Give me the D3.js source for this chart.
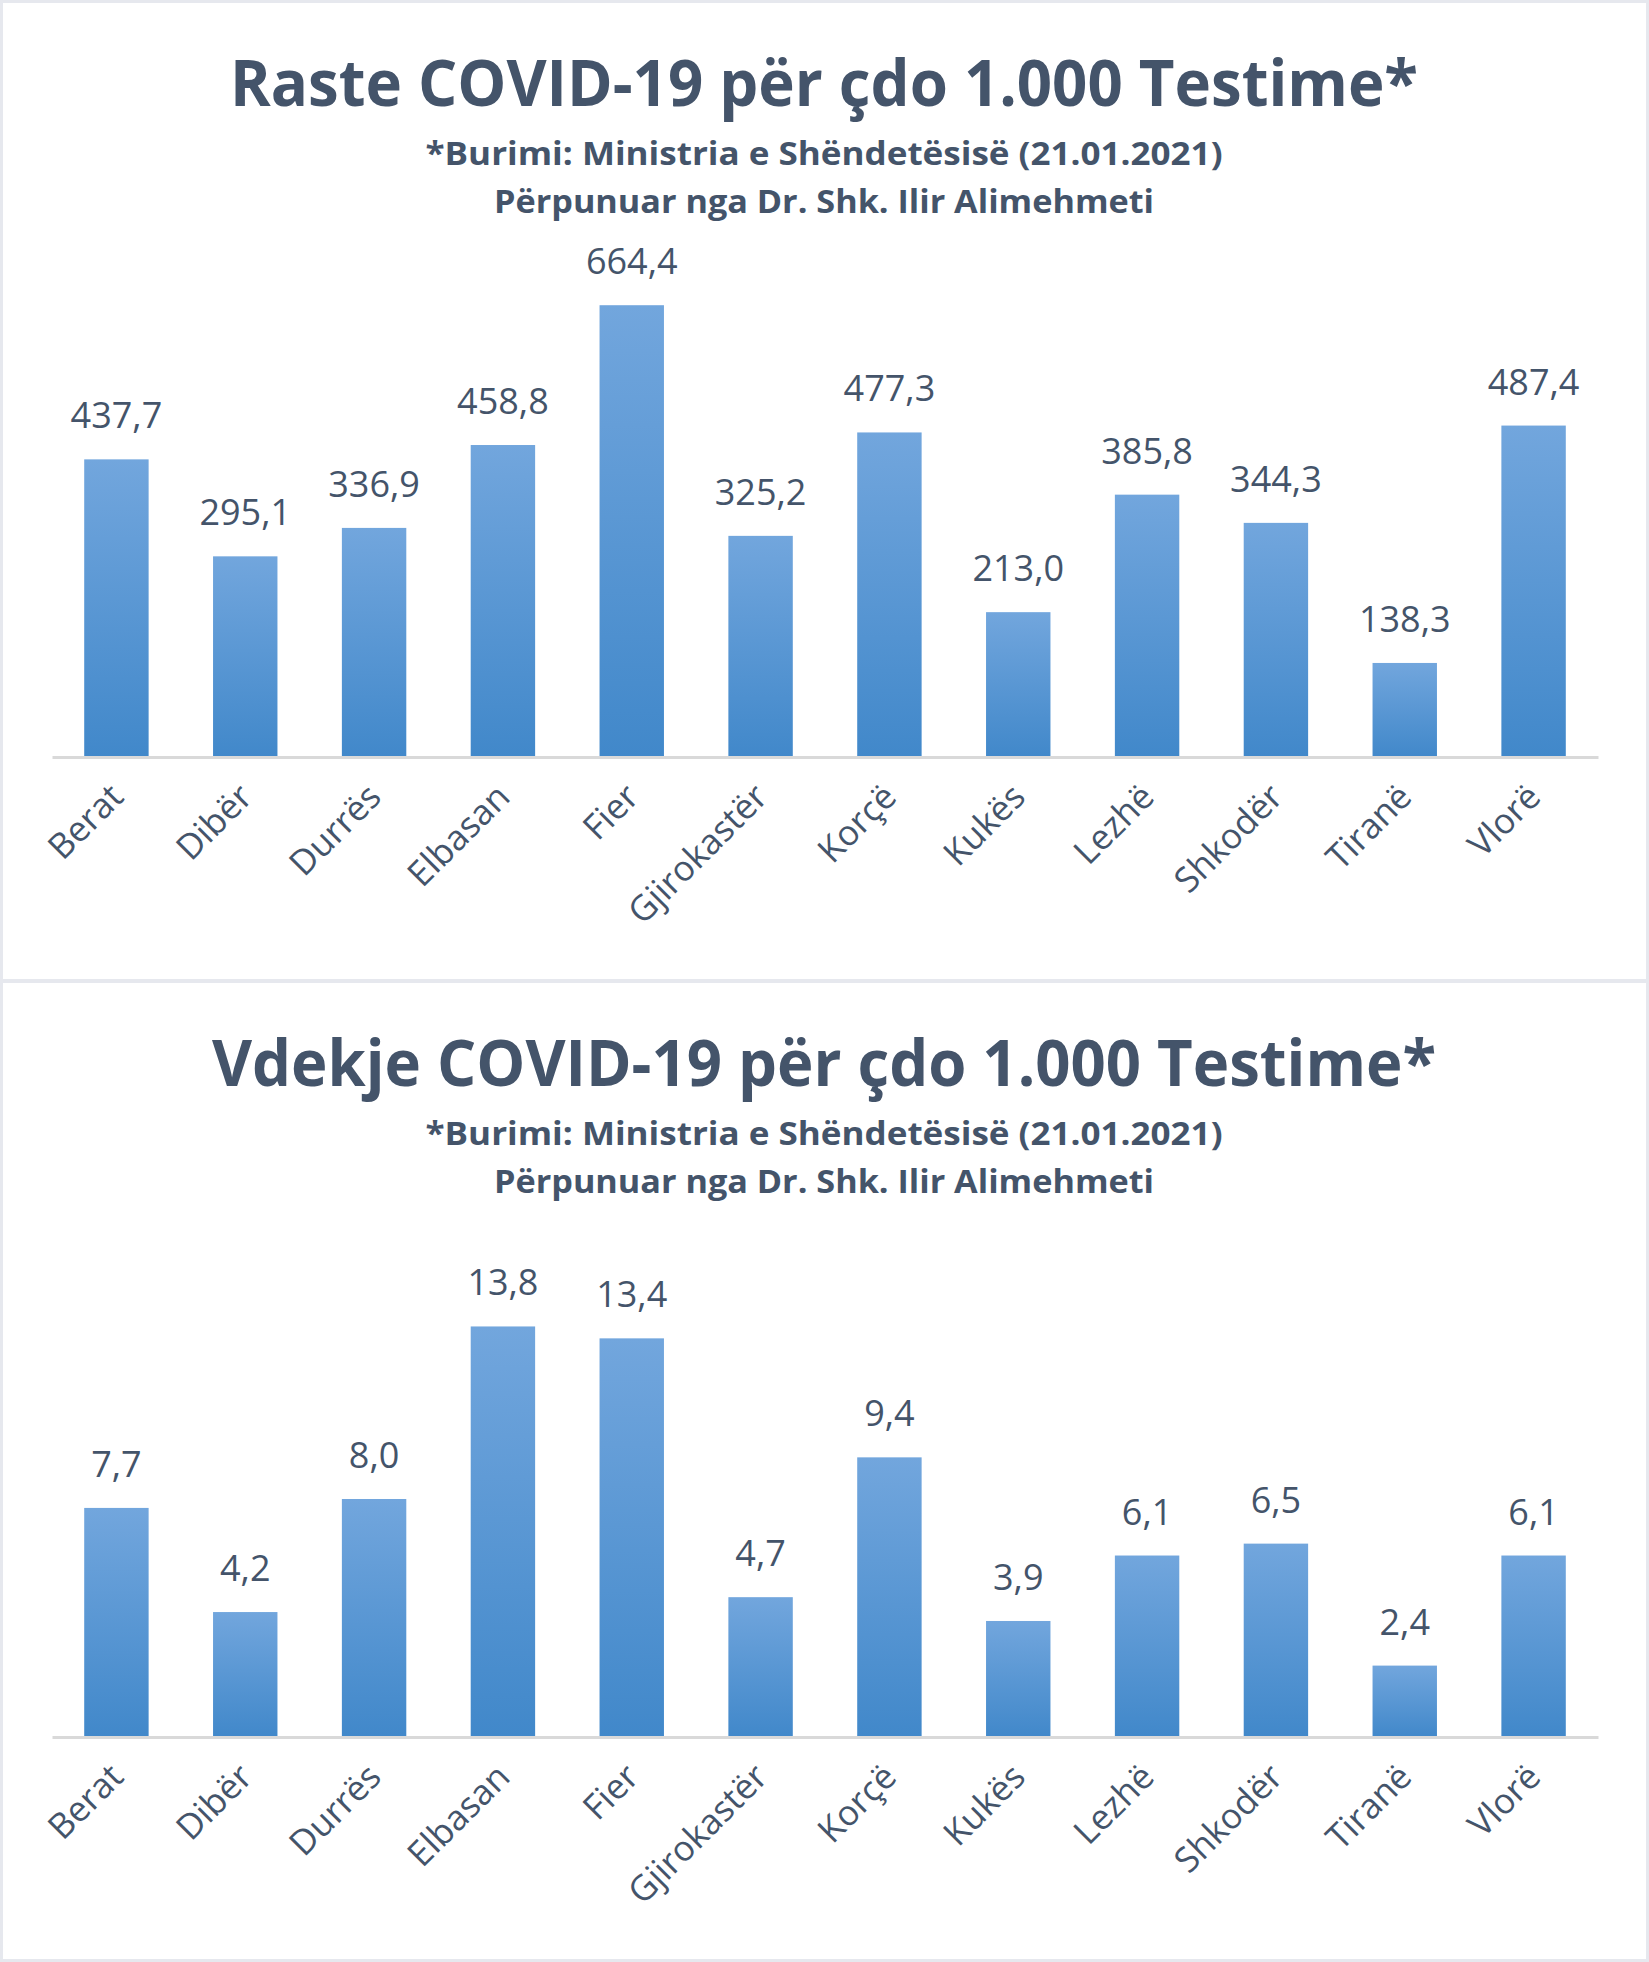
<html>
	<head>
		<meta charset="UTF-8">
		<title>Raste dhe Vdekje COVID-19 për çdo 1.000 Testime</title>
		<script src="https://d3js.org/d3.v7.min.js"></script>
		<style>
			body { margin: 0; background: #e6e8ee; }
			svg { display: block; }
		</style>
	</head>
	<body>
		<div id="svg"></div>
		<script>
			// data
			var districts = ["Berat", "Dibër", "Durrës", "Elbasan", "Fier", "Gjirokastër", "Korçë", "Kukës", "Lezhë", "Shkodër", "Tiranë", "Vlorë"];
			var cases = [437.7, 295.1, 336.9, 458.8, 664.4, 325.2, 477.3, 213.0, 385.8, 344.3, 138.3, 487.4];
			var deaths = [7.7, 4.2, 8.0, 13.8, 13.4, 4.7, 9.4, 3.9, 6.1, 6.5, 2.4, 6.1];
			var titles = ["Raste COVID-19 për çdo 1.000 Testime*", "Vdekje COVID-19 për çdo 1.000 Testime*"];
			var subtitle1 = "*Burimi: Ministria e Shëndetësisë (21.01.2021)";
			var subtitle2 = "Përpunuar nga Dr. Shk. Ilir Alimehmeti";
			var yMax = [700, 16];

			var SVG_WIDTH = 1649, SVG_HEIGHT = 1962, PANEL_H = 976, TEXT_CLR = "#44546a";
			var fmt = d3.formatLocale({decimal: ",", thousands: ".", grouping: [3], currency: ["", ""]}).format(".1f");

			var svg = d3.select("#svg").append("svg").attr("width", SVG_WIDTH).attr("height", SVG_HEIGHT);

			var grad = svg.append("defs").append("linearGradient").attr("id", "barGrad")
				.attr("x1", 0).attr("y1", 0).attr("x2", 0).attr("y2", 1);
			grad.append("stop").attr("offset", "0%").attr("stop-color", "#72a6dd");
			grad.append("stop").attr("offset", "100%").attr("stop-color", "#4188ca");

			var x = d3.scaleBand().domain(districts).range([52, 1598]).paddingInner(0.5).paddingOuter(0.25);

			function drawPanel(y0, title, titleLen, values, max){
				var g = svg.append("g").attr("transform", "translate(0," + y0 + ")");
				g.append("rect").attr("x", 3).attr("y", 0).attr("width", 1643).attr("height", PANEL_H).style("fill", "#fff");

				g.append("text").attr("x", 824).attr("y", 103).attr("text-anchor", "middle")
					.attr("textLength", titleLen).attr("lengthAdjust", "spacingAndGlyphs")
					.style("font-family", "'Open Sans', 'Noto Sans', sans-serif").style("font-weight", "bold")
					.style("font-size", "64px").style("fill", TEXT_CLR).text(title);
				g.append("text").attr("x", 824).attr("y", 162).attr("text-anchor", "middle")
					.attr("textLength", 797).attr("lengthAdjust", "spacingAndGlyphs")
					.style("font-family", "'Open Sans', 'Noto Sans', sans-serif").style("font-weight", "bold")
					.style("font-size", "32px").style("fill", TEXT_CLR).text(subtitle1);
				g.append("text").attr("x", 824).attr("y", 210).attr("text-anchor", "middle")
					.attr("textLength", 660).attr("lengthAdjust", "spacingAndGlyphs")
					.style("font-family", "'Open Sans', 'Noto Sans', sans-serif").style("font-weight", "bold")
					.style("font-size", "32px").style("fill", TEXT_CLR).text(subtitle2);

				var y = d3.scaleLinear().domain([0, max]).range([754, 278]);

				g.selectAll("rect.bar").data(values).enter().append("rect").attr("class", "bar")
					.attr("x", function(d, i){ return x(districts[i]); })
					.attr("width", x.bandwidth())
					.attr("y", function(d){ return y(d); })
					.attr("height", function(d){ return y(0) - y(d); })
					.style("fill", "url(#barGrad)");

				g.selectAll("text.val").data(values).enter().append("text").attr("class", "val")
					.attr("x", function(d, i){ return x(districts[i]) + x.bandwidth() / 2; })
					.attr("y", function(d){ return y(d) - 31; })
					.attr("text-anchor", "middle")
					.style("font-family", "'Open Sans', 'Noto Sans', sans-serif").style("font-size", "36px")
					.style("fill", TEXT_CLR).text(function(d){ return fmt(d); });

				var axis = g.append("g").attr("transform", "translate(0," + y(0) + ")")
					.call(d3.axisBottom(x).tickSize(0).tickPadding(0));
				axis.select(".domain").style("stroke", "#d9d9d9").style("stroke-width", 3);
				axis.selectAll(".tick text")
					.attr("transform", "translate(9,42) rotate(-45)")
					.attr("dy", 0)
					.attr("text-anchor", "end")
					.style("font-family", "'Open Sans', 'Noto Sans', sans-serif").style("font-size", "35px")
					.style("fill", TEXT_CLR);
			}

			drawPanel(3, titles[0], 1188, cases, yMax[0]);
			drawPanel(983, titles[1], 1224, deaths, yMax[1]);
		</script>
	</body>
</html>
